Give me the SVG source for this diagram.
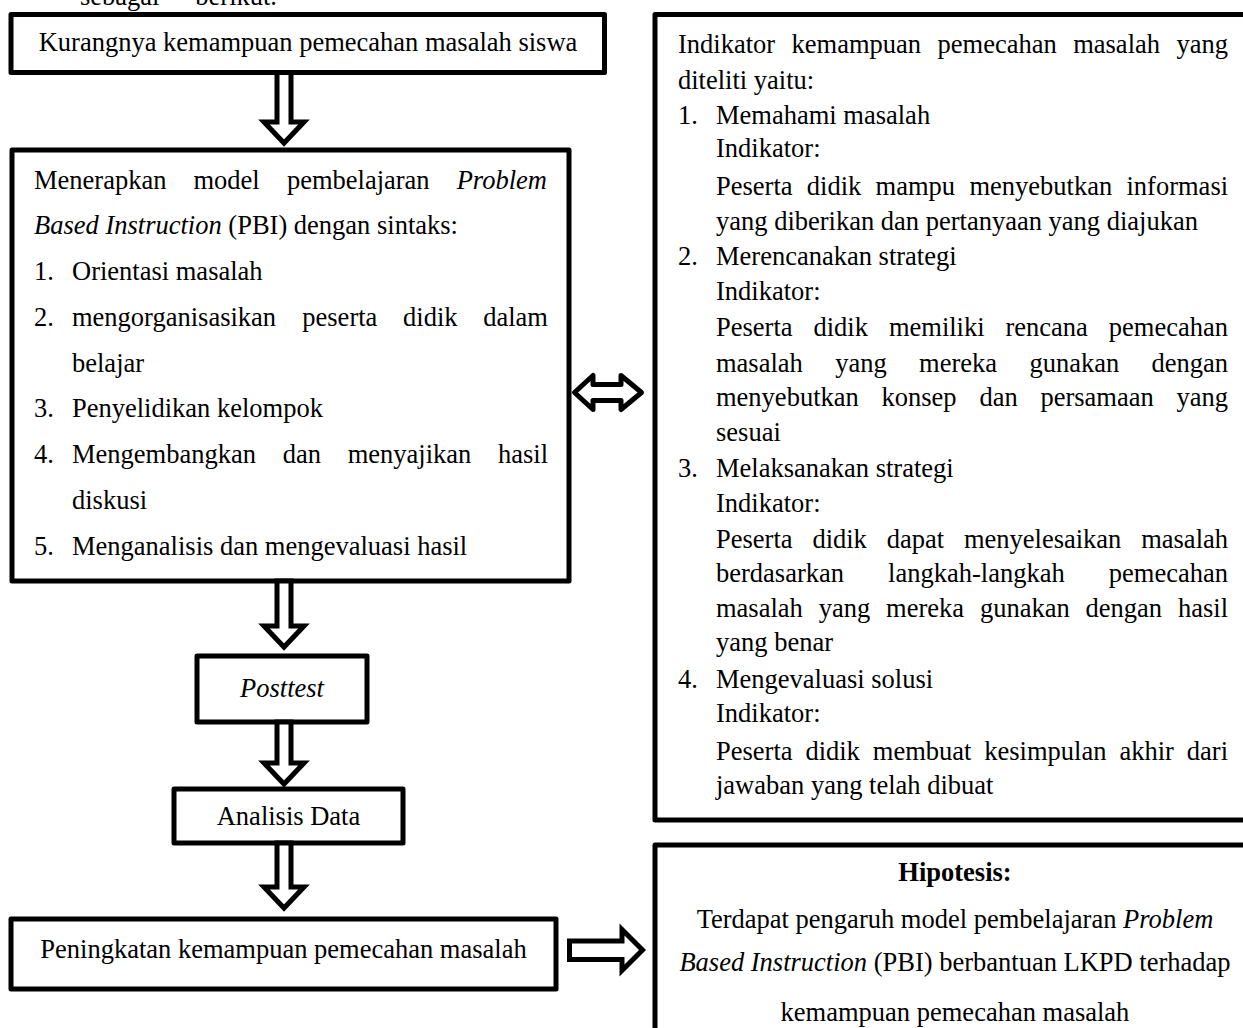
<svg xmlns="http://www.w3.org/2000/svg" width="1243" height="1028" viewBox="0 0 1243 1028">
<style>
  text { font-family: "Liberation Serif", "Times New Roman", serif; font-size: 26.5px; fill: #000; }
  .c { text-anchor: middle; }
  .i { font-style: italic; }
  .b { font-weight: bold; }
  .box { fill: #fff; stroke: #000; stroke-width: 5; stroke-linejoin: round; }
  .arr { fill: #fff; stroke: #000; stroke-width: 5; stroke-linejoin: miter; }
  .arr2 { fill: #fff; stroke: #000; stroke-width: 5; stroke-linejoin: round; }
</style>
<rect x="0" y="0" width="1243" height="1028" fill="#fff"/>

<text y="5"><tspan x="80">sebagai</tspan><tspan x="195.3">berikut.</tspan></text>

<g id="node-masalah">
  <rect class="box" x="11" y="14.5" width="593.5" height="58"/>
  <text class="c" x="308" y="51">Kurangnya kemampuan pemecahan masalah siswa</text>
</g>

<g id="node-pbi">
  <rect class="box" x="12" y="150" width="557" height="431"/>
  <text y="188.5"><tspan x="34">Menerapkan</tspan><tspan x="193.5">model</tspan><tspan x="286.9">pembelajaran</tspan><tspan x="456.7" class="i">Problem</tspan></text>
  <text x="34" y="234.3"><tspan class="i">Based Instruction</tspan> (PBI) dengan sintaks:</text>
  <text y="280"><tspan x="34">1.</tspan><tspan x="72">Orientasi masalah</tspan></text>
  <text y="325.8"><tspan x="34">2.</tspan><tspan x="72">mengorganisasikan</tspan><tspan x="302.3">peserta</tspan><tspan x="403.1">didik</tspan><tspan x="483.2">dalam</tspan></text>
  <text x="72" y="371.6">belajar</text>
  <text y="417.4"><tspan x="34">3.</tspan><tspan x="72">Penyelidikan kelompok</tspan></text>
  <text y="463.2"><tspan x="34">4.</tspan><tspan x="72">Mengembangkan</tspan><tspan x="282.7">dan</tspan><tspan x="347.7">menyajikan</tspan><tspan x="498">hasil</tspan></text>
  <text x="72" y="509">diskusi</text>
  <text y="554.8"><tspan x="34">5.</tspan><tspan x="72">Menganalisis dan mengevaluasi hasil</tspan></text>
</g>

<g id="node-indikator">
  <rect class="box" x="655" y="14.5" width="620" height="805.5"/>
  <text y="53"><tspan x="678">Indikator</tspan><tspan x="791.6">kemampuan</tspan><tspan x="937.6">pemecahan</tspan><tspan x="1073.2">masalah</tspan><tspan x="1176.5">yang</tspan></text>
  <text x="678" y="89">diteliti yaitu:</text>
  <text y="124"><tspan x="678">1.</tspan><tspan x="716">Memahami masalah</tspan></text>
  <text x="716" y="157">Indikator:</text>
  <text y="195"><tspan x="716">Peserta</tspan><tspan x="806.8">didik</tspan><tspan x="875.6">mampu</tspan><tspan x="969.4">menyebutkan</tspan><tspan x="1126.5">informasi</tspan></text>
  <text x="716" y="230">yang diberikan dan pertanyaan yang diajukan</text>
  <text y="265"><tspan x="678">2.</tspan><tspan x="716">Merencanakan strategi</tspan></text>
  <text x="716" y="300">Indikator:</text>
  <text y="336"><tspan x="716">Peserta</tspan><tspan x="813.5">didik</tspan><tspan x="888.9">memiliki</tspan><tspan x="1005.5">rencana</tspan><tspan x="1108.8">pemecahan</tspan></text>
  <text y="372"><tspan x="716">masalah</tspan><tspan x="835.2">yang</tspan><tspan x="919.1">mereka</tspan><tspan x="1029.4">gunakan</tspan><tspan x="1151.5">dengan</tspan></text>
  <text y="406"><tspan x="716">menyebutkan</tspan><tspan x="881.5">konsep</tspan><tspan x="979.4">dan</tspan><tspan x="1040.4">persamaan</tspan><tspan x="1176.5">yang</tspan></text>
  <text x="716" y="441">sesuai</text>
  <text y="477"><tspan x="678">3.</tspan><tspan x="716">Melaksanakan strategi</tspan></text>
  <text x="716" y="512">Indikator:</text>
  <text y="548"><tspan x="716">Peserta</tspan><tspan x="812.4">didik</tspan><tspan x="886.7">dapat</tspan><tspan x="963.9">menyelesaikan</tspan><tspan x="1141.2">masalah</tspan></text>
  <text y="582"><tspan x="716">berdasarkan</tspan><tspan x="888.1">langkah-langkah</tspan><tspan x="1108.8">pemecahan</tspan></text>
  <text y="617"><tspan x="716">masalah</tspan><tspan x="818.7">yang</tspan><tspan x="886.1">mereka</tspan><tspan x="979.9">gunakan</tspan><tspan x="1085.6">dengan</tspan><tspan x="1178">hasil</tspan></text>
  <text x="716" y="651">yang benar</text>
  <text y="688"><tspan x="678">4.</tspan><tspan x="716">Mengevaluasi solusi</tspan></text>
  <text x="716" y="722">Indikator:</text>
  <text y="760"><tspan x="716">Peserta</tspan><tspan x="805.4">didik</tspan><tspan x="872.8">membuat</tspan><tspan x="984.3">kesimpulan</tspan><tspan x="1119.4">akhir</tspan><tspan x="1186.8">dari</tspan></text>
  <text x="716" y="794">jawaban yang telah dibuat</text>
</g>

<g id="node-posttest">
  <rect class="box" x="197" y="656" width="170" height="66"/>
  <text class="c i" x="282" y="697">Posttest</text>
</g>

<g id="node-analisis">
  <rect class="box" x="174" y="789" width="229" height="54"/>
  <text class="c" x="288.5" y="825">Analisis Data</text>
</g>

<g id="node-peningkatan">
  <rect class="box" x="11" y="919" width="545" height="70"/>
  <text class="c" x="283.5" y="958">Peningkatan kemampuan pemecahan masalah</text>
</g>

<g id="node-hipotesis">
  <rect class="box" x="655" y="845" width="620" height="220"/>
  <text class="c b" x="955" y="881">Hipotesis:</text>
  <text class="c" x="955" y="928">Terdapat pengaruh model pembelajaran <tspan class="i">Problem</tspan></text>
  <text class="c" x="955" y="971"><tspan class="i">Based Instruction</tspan> (PBI) berbantuan LKPD terhadap</text>
  <text class="c" x="955" y="1021">kemampuan pemecahan masalah</text>
</g>

<g id="connectors">
  <path class="arr" d="M277,72.5 L277,122 L264,122 L284,143 L304,122 L291,122 L291,72.5 Z"/>
  <path class="arr" d="M277,581 L277,626 L264,626 L284,647 L304,626 L291,626 L291,581 Z"/>
  <path class="arr" d="M277,722 L277,763 L264,763 L284,784 L304,763 L291,763 L291,722 Z"/>
  <path class="arr" d="M277,843 L277,887 L264,887 L284,908 L304,887 L291,887 L291,843 Z"/>
  <path class="arr" d="M569.5,941 L622,941 L622,929.5 L642.5,950 L622,970.5 L622,959.5 L569.5,959.5 Z"/>
  <path class="arr2" d="M574.5,392.5 L593,375.5 L593,384.5 L621,384.5 L621,375.5 L641.5,392.5 L621,409.5 L621,400.5 L593,400.5 L593,409.5 Z"/>
</g>
</svg>
